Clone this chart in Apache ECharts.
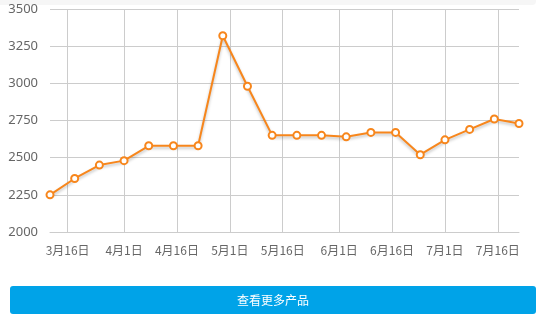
<!DOCTYPE html>
<html>
<head>
<meta charset="utf-8">
<script src="https://cdn.jsdelivr.net/npm/echarts@6/dist/echarts.min.js"></script>
<style>
html,body{margin:0;padding:0;background:#fff;}
#c{width:543px;height:315px;}
</style>
</head>
<body>
<div id="c"></div>
<script>
const dates = ['2023-03-11','2023-03-18','2023-03-25','2023-04-01','2023-04-08','2023-04-15','2023-04-22','2023-04-29','2023-05-06','2023-05-13','2023-05-20','2023-05-27','2023-06-03','2023-06-10','2023-06-17','2023-06-24','2023-07-01','2023-07-08','2023-07-15','2023-07-22'];
const prices = [2250,2360,2450,2480,2580,2580,2580,3320,2980,2650,2650,2650,2640,2670,2670,2520,2620,2690,2760,2730];
const tickDates = ['2023-03-16','2023-04-01','2023-04-16','2023-05-01','2023-05-16','2023-06-01','2023-06-16','2023-07-01','2023-07-16'];
const yTicks = [2000,2250,2500,2750,3000,3250,3500];
const buttonText = '查看更多产品';

function ts(s){const p=s.split('-').map(Number);return new Date(p[0],p[1]-1,p[2]).getTime();}
const seriesData = dates.map((d,i)=>[ts(d),prices[i]]);
const tickVals = tickDates.map(ts);

const chart = echarts.init(document.getElementById('c'), null, {renderer:'canvas'});
chart.setOption({
  animation:false,
  grid:{left:50,right:24,top:9,bottom:83,containLabel:false},
  xAxis:{
    type:'value',
    min:ts(dates[0]),
    max:ts(dates[dates.length-1]),
    axisLine:{show:true,lineStyle:{color:'#cccccc',width:1}},
    axisTick:{show:false,customValues:tickVals},
    axisLabel:{
      customValues:tickVals,
      color:'#666',fontSize:12,margin:12,
      fontFamily:'"Noto Sans CJK SC", sans-serif',
      formatter:function(v){const d=new Date(v);return (d.getMonth()+1)+'月'+d.getDate()+'日';}
    },
    splitLine:{show:true,lineStyle:{color:'#cccccc',width:1}}
  },
  yAxis:{
    type:'value',
    min:yTicks[0],max:yTicks[yTicks.length-1],interval:250,
    axisLine:{show:false},axisTick:{show:false},
    axisLabel:{color:'#666',fontSize:13,margin:12,fontFamily:'"Noto Sans", sans-serif',formatter:function(v){return String(v);}},
    splitLine:{show:true,lineStyle:{color:'#cccccc',width:1}}
  },
  series:[{
    type:'line',
    data:seriesData,
    symbol:'emptyCircle',
    symbolSize:7,
    showAllSymbol:true,
    lineStyle:{color:'#f7861c',width:2,shadowColor:'rgba(0,0,0,0.25)',shadowBlur:3,shadowOffsetY:2},
    itemStyle:{color:'#f7861c',borderColor:'#f7861c',borderWidth:2}
  }],
  graphic:[
    {type:'rect',left:0,top:0,shape:{x:0,y:0,width:536,height:5,r:[0,0,4,0]},style:{fill:'#f6f6f6'},z:-1},
    {type:'rect',shape:{x:10,y:286,width:526,height:28,r:3},style:{fill:'#00a3e8'}},
    {type:'text',x:273,y:300,style:{text:buttonText,fill:'#fff',fontSize:12,fontFamily:'"Noto Sans CJK SC", sans-serif',align:'center',verticalAlign:'middle'}}
  ]
});
</script>
</body>
</html>
